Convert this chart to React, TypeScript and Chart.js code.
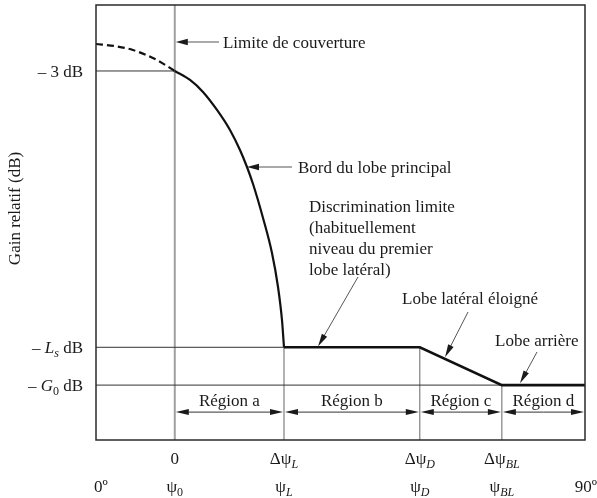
import React, { useEffect, useRef } from "react";
import { Chart, registerables } from "chart.js";

Chart.register(...registerables);

// ---- Data (angles in degrees, gains in dB, schematic) ----
const markerAngles = [14.5, 34.6, 59.6, 74.7]; // psi0, psiL, psiD, psiBL
const yTickValues = [-3, -33.7, -37.9]; // -3 dB, -Ls, -G0

const dashedLobeX = [0, 3.3, 6.8, 11.2, 14.5];
const dashedLobeY = [0, -0.22, -0.67, -1.78, -3];

const mainLobeX = [14.5, 17.3, 19.69, 22.27, 24.66, 26.5, 27.79, 28.9, 30.74, 32.39, 33.5, 34.23, 34.6];
const mainLobeY = [-3, -4.0, -5.33, -7.33, -9.56, -11.78, -13.67, -15.56, -19.33, -23.22, -27.0, -30.67, -33.7];

const sideLobeX = [34.6, 59.6, 74.7, 90];
const sideLobeY = [-33.7, -33.7, -37.9, -37.9];

const regionNames = ["Région a", "Région b", "Région c", "Région d"];
const regionBounds = [14.5, 34.6, 59.6, 74.7, 90];

const X_MIN = 0;
const X_MAX = 90;
const Y_MIN = -44;
const Y_MAX = 4.33;

type Part = { t: string; it?: boolean; sub?: boolean };

const yTickLabels: Part[][] = [
  [{ t: "– 3 dB" }],
  [{ t: "– " }, { t: "L", it: true }, { t: "s", it: true, sub: true }, { t: " dB" }],
  [{ t: "– " }, { t: "G", it: true }, { t: "0", sub: true }, { t: " dB" }],
];

const xRow1Labels: Part[][] = [
  [{ t: "0" }],
  [{ t: "Δψ" }, { t: "L", it: true, sub: true }],
  [{ t: "Δψ" }, { t: "D", it: true, sub: true }],
  [{ t: "Δψ" }, { t: "BL", it: true, sub: true }],
];
const xRow2Labels: Part[][] = [
  [{ t: "ψ" }, { t: "0", sub: true }],
  [{ t: "ψ" }, { t: "L", it: true, sub: true }],
  [{ t: "ψ" }, { t: "D", it: true, sub: true }],
  [{ t: "ψ" }, { t: "BL", it: true, sub: true }],
];
const endLabels = ["0º", "90º"];

const annotationTexts = {
  coverage: "Limite de couverture",
  mainLobe: "Bord du lobe principal",
  discrimination: ["Discrimination limite", "(habituellement", "niveau du premier", "lobe latéral)"],
  farSide: "Lobe latéral éloigné",
  back: "Lobe arrière",
};

const FONT = '"Liberation Serif", "Times New Roman", serif';
const TEXT_COLOR = "#1a1a1a";

function fontFor(p: Part) {
  return `${p.it ? "italic " : ""}${p.sub ? 12 : 17}px ${FONT}`;
}

function drawRich(ctx: CanvasRenderingContext2D, parts: Part[], x: number, yMid: number, align: "left" | "center" | "right") {
  let total = 0;
  const widths = parts.map((p) => {
    ctx.font = fontFor(p);
    const w = ctx.measureText(p.t).width;
    total += w;
    return w;
  });
  let cx = align === "left" ? x : align === "center" ? x - total / 2 : x - total;
  const base = yMid + 6;
  ctx.textAlign = "left";
  ctx.textBaseline = "alphabetic";
  parts.forEach((p, i) => {
    ctx.font = fontFor(p);
    ctx.fillText(p.t, cx, p.sub ? base + 4 : base);
    cx += widths[i];
  });
}

function arrow(ctx: CanvasRenderingContext2D, x1: number, y1: number, x2: number, y2: number, len = 12, half = 3.2, lw = 1) {
  const a = Math.atan2(y2 - y1, x2 - x1);
  ctx.lineWidth = lw;
  ctx.beginPath();
  ctx.moveTo(x1, y1);
  ctx.lineTo(x2 - Math.cos(a) * (len - 2), y2 - Math.sin(a) * (len - 2));
  ctx.stroke();
  ctx.beginPath();
  ctx.moveTo(x2, y2);
  ctx.lineTo(x2 - Math.cos(a) * len - Math.sin(a) * half, y2 - Math.sin(a) * len + Math.cos(a) * half);
  ctx.lineTo(x2 - Math.cos(a) * len + Math.sin(a) * half, y2 - Math.sin(a) * len - Math.cos(a) * half);
  ctx.closePath();
  ctx.fill();
}

const overlayPlugin = {
  id: "overlay",
  afterDraw(chart: any) {
    const ctx: CanvasRenderingContext2D = chart.ctx;
    const xs = chart.scales.x;
    const ys = chart.scales.y;
    const ca = chart.chartArea;
    const X = (v: number) => xs.getPixelForValue(v);
    const Y = (v: number) => ys.getPixelForValue(v);
    ctx.save();

    // frame
    ctx.strokeStyle = "#2a2a2a";
    ctx.lineWidth = 1.5;
    ctx.strokeRect(ca.left, ca.top, ca.right - ca.left, ca.bottom - ca.top);

    ctx.fillStyle = TEXT_COLOR;
    ctx.strokeStyle = "#333";

    // y tick labels
    yTickValues.forEach((v, i) => drawRich(ctx, yTickLabels[i], ca.left - 13, Y(v), "right"));

    // y title
    ctx.save();
    ctx.translate(16, (ca.top + ca.bottom) / 2 - 14);
    ctx.rotate(-Math.PI / 2);
    ctx.font = `17px ${FONT}`;
    ctx.textAlign = "center";
    ctx.textBaseline = "middle";
    ctx.fillText("Gain relatif (dB)", 0, 0);
    ctx.restore();

    // x labels
    markerAngles.forEach((v, i) => {
      drawRich(ctx, xRow1Labels[i], X(v), ca.bottom + 18, "center");
      drawRich(ctx, xRow2Labels[i], X(v), ca.bottom + 46, "center");
    });
    drawRich(ctx, [{ t: endLabels[0] }], X(X_MIN) + 5, ca.bottom + 46, "center");
    drawRich(ctx, [{ t: endLabels[1] }], X(X_MAX) + 1, ca.bottom + 46, "center");

    // region arrows
    ctx.strokeStyle = "#333";
    ctx.fillStyle = "#1a1a1a";
    const ry = Y(-40.9);
    regionNames.forEach((name, i) => {
      const a = X(regionBounds[i]);
      const b = X(regionBounds[i + 1]);
      const m = (a + b) / 2;
      arrow(ctx, m, ry, a + 1, ry, 13, 3);
      arrow(ctx, m, ry, b - 1, ry, 13, 3);
      drawRich(ctx, [{ t: name }], m, Y(-39.6), "center");
    });

    // annotations
    ctx.strokeStyle = "#555";
    arrow(ctx, X(22.64), Y(0.22), X(14.5) + 1, Y(0.22), 12, 3.2);
    drawRich(ctx, [{ t: annotationTexts.coverage }], X(23.37), Y(0.22), "left");

    arrow(ctx, X(36.07), Y(-13.67), X(27.79), Y(-13.67), 12, 3.2);
    drawRich(ctx, [{ t: annotationTexts.mainLobe }], X(37.18), Y(-13.67), "left");

    const discY = [-18, -20.33, -22.67, -25];
    annotationTexts.discrimination.forEach((line, i) => drawRich(ctx, [{ t: line }], X(39.2), Y(discY[i]), "left"));
    arrow(ctx, X(48.22), Y(-25.89), X(40.86), Y(-33.6), 13, 3);

    drawRich(ctx, [{ t: annotationTexts.farSide }], X(56.32), Y(-28.22), "left");
    arrow(ctx, X(68.47), Y(-29.78), X(64.23), Y(-34.8), 13, 3);

    drawRich(ctx, [{ t: annotationTexts.back }], X(73.44), Y(-32.89), "left");
    arrow(ctx, X(81.17), Y(-34.22), X(78.04), Y(-37.7), 13, 3);

    ctx.restore();
  },
};

function seg(x1: number, y1: number, x2: number, y2: number) {
  return [
    { x: x1, y: y1 },
    { x: x2, y: y2 },
  ];
}

export default function App() {
  const ref = useRef<HTMLCanvasElement | null>(null);
  useEffect(() => {
    if (!ref.current) return;
    const thin = (data: any, color: string, width = 1) => ({
      data,
      borderColor: color,
      borderWidth: width,
      pointRadius: 0,
      fill: false,
      tension: 0,
    });
    const chart = new Chart(ref.current, {
      type: "line",
      data: {
        datasets: [
          {
            data: mainLobeX.map((x, i) => ({ x, y: mainLobeY[i] })),
            borderColor: "#111",
            borderWidth: 2.2,
            pointRadius: 0,
            fill: false,
            cubicInterpolationMode: "monotone",
          } as any,
          {
            data: dashedLobeX.map((x, i) => ({ x, y: dashedLobeY[i] })),
            borderColor: "#111",
            borderWidth: 2.2,
            borderDash: [7, 4],
            pointRadius: 0,
            fill: false,
            cubicInterpolationMode: "monotone",
          } as any,
          thin(sideLobeX.map((x, i) => ({ x, y: sideLobeY[i] })), "#111", 2.6),
          thin(seg(X_MIN, yTickValues[0], markerAngles[0], yTickValues[0]), "#333", 1),
          thin(seg(X_MIN, yTickValues[1], markerAngles[1], yTickValues[1]), "#333", 1),
          thin(seg(X_MIN, yTickValues[2], X_MAX, yTickValues[2]), "#333", 1),
          thin(seg(markerAngles[0], Y_MIN, markerAngles[0], Y_MAX), "#a0a0a0", 2),
          thin(seg(markerAngles[1], Y_MIN, markerAngles[1], yTickValues[1]), "#666", 1),
          thin(seg(markerAngles[2], Y_MIN, markerAngles[2], yTickValues[1]), "#666", 1),
          thin(seg(markerAngles[3], Y_MIN, markerAngles[3], yTickValues[2]), "#666", 1),
        ],
      },
      options: {
        animation: false,
        responsive: false,
        devicePixelRatio: 1,
        layout: { padding: { left: 96, top: 5, right: 12, bottom: 58 } },
        plugins: { legend: { display: false }, tooltip: { enabled: false } },
        scales: {
          x: { type: "linear", min: X_MIN, max: X_MAX, display: false },
          y: { type: "linear", min: Y_MIN, max: Y_MAX, display: false },
        },
      },
      plugins: [overlayPlugin],
    });
    return () => chart.destroy();
  }, []);
  return (
    <div style={{ position: "absolute", left: 0, top: 0, width: 597, height: 498, background: "#fff" }}>
      <canvas ref={ref} width={597} height={498} />
    </div>
  );
}
